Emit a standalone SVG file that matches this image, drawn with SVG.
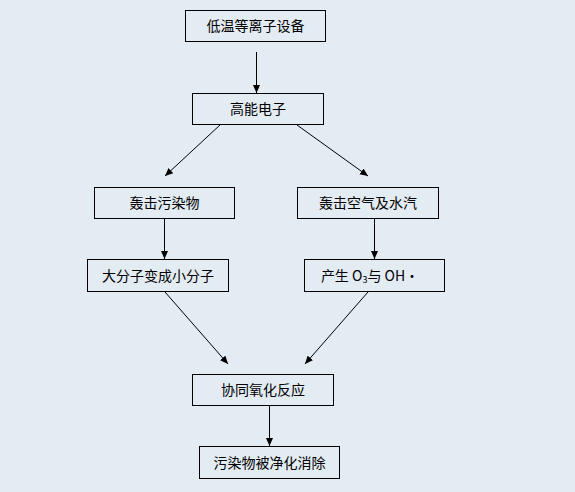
<svg xmlns="http://www.w3.org/2000/svg" width="575" height="492" viewBox="0 0 575 492">
<defs>
<marker id="ah" markerWidth="8" markerHeight="8" refX="8" refY="4" orient="auto" markerUnits="userSpaceOnUse">
<path d="M0,0.5 L8,4 L0,7.5 Z" fill="#000"/>
</marker>
<style>
.box{fill:none;stroke:#000;stroke-width:1}
.t{font-family:"Noto Sans CJK SC","Liberation Sans",sans-serif;font-size:14px;fill:#000;text-anchor:middle}
.c line{stroke:#000;stroke-width:1;marker-end:url(#ah)}
</style>
</defs>
<rect width="575" height="492" fill="#E3EBF3"/>
<g id="n1"><rect class="box" x="185.5" y="10.5" width="140" height="31"/><text class="t" x="255.5" y="31">低温等离子设备</text></g>
<g id="n2"><rect class="box" x="192.5" y="93.5" width="131" height="31"/><text class="t" x="258" y="114">高能电子</text></g>
<g id="n3"><rect class="box" x="94.5" y="187.5" width="140" height="31"/><text class="t" x="164.5" y="208">轰击污染物</text></g>
<g id="n4"><rect class="box" x="297.5" y="187.5" width="141" height="31"/><text class="t" x="368" y="208">轰击空气及水汽</text></g>
<g id="n5"><rect class="box" x="87.5" y="259.5" width="141" height="32"/><text class="t" x="158" y="281">大分子变成小分子</text></g>
<g id="n6"><rect class="box" x="304.5" y="259.5" width="140" height="32"/><text class="t" x="370" y="281">产生 O<tspan font-size="9" dy="2">3</tspan><tspan dy="-2">与 OH·</tspan></text></g>
<g id="n7"><rect class="box" x="192.5" y="374.5" width="141" height="31"/><text class="t" x="263" y="395">协同氧化反应</text></g>
<g id="n8"><rect class="box" x="199.5" y="446.5" width="140" height="32"/><text class="t" x="269.5" y="468">污染物被净化消除</text></g>
<g id="connectors" class="c">
<line x1="256.5" y1="52" x2="256.5" y2="93"/>
<line x1="220" y1="125" x2="165" y2="176"/>
<line x1="297" y1="125" x2="368" y2="176"/>
<line x1="164.5" y1="219" x2="164.5" y2="259"/>
<line x1="374.5" y1="219" x2="374.5" y2="259"/>
<line x1="165" y1="292" x2="228" y2="364"/>
<line x1="368" y1="292" x2="305" y2="364"/>
<line x1="269.5" y1="406" x2="269.5" y2="446"/>
</g>
</svg>
